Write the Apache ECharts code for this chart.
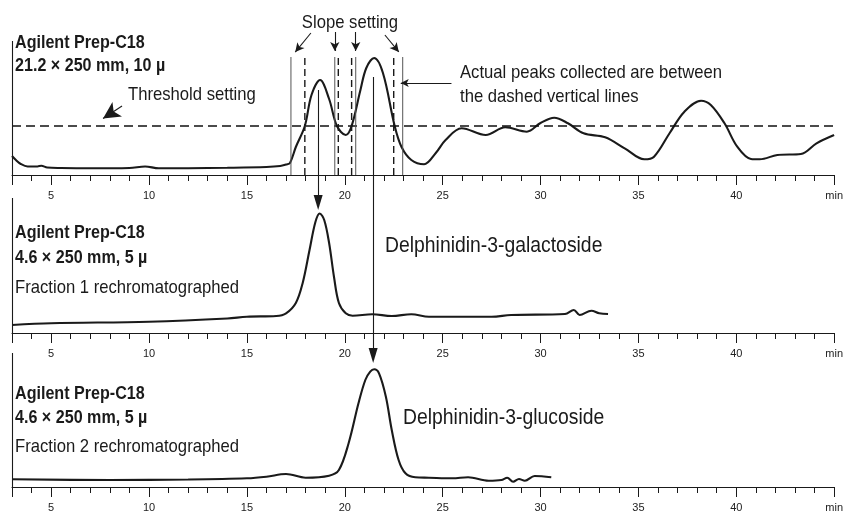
<!DOCTYPE html>
<html><head><meta charset="utf-8">
<script src="https://cdn.jsdelivr.net/npm/echarts@6/dist/echarts.min.js"></script>
<style>html,body{margin:0;padding:0;background:#fff}#c{width:846px;height:513px}</style>
</head><body><div id="c"></div>
<script>
// ---- axis ----
const timeMin = 3, timeMax = 45;
const majorTicks = [3, 5, 10, 15, 20, 25, 30, 35, 40, 45];
const labelTicks = [5, 10, 15, 20, 25, 30, 35, 40, 45];
const minorTicks = [3,4,5,6,7,8,9,10,11,12,13,14,15,16,17,18,19,20,21,22,23,24,25,26,27,28,29,30,31,32,33,34,35,36,37,38,39,40,41,42,43,44,45];

// ---- panel 1: Agilent Prep-C18 21.2 x 250 mm (preparative run) ----
const prepTime   = [3.0,3.2,3.45,3.8,4.3,4.5,4.8,5.5,7,9,9.8,10.5,12,14,16,16.7,17.0,17.2,17.5,17.96,18.3,18.74,19.2,19.6,20.05,20.35,20.8,21.1,21.5,21.95,22.55,22.9,23.4,24.05,24.65,25.15,25.97,27.2,28.2,29.3,30.0,30.7,31.4,32.2,33.3,34.3,35.3,35.8,36.6,37.35,38.2,38.7,39.4,40.05,40.75,41.2,42.1,43.3,44.1,45.0];
const prepSignal = [19,15,11,8.5,8.5,9.3,7.5,7,6.7,7,8.5,6.7,6.8,7.2,8,9,10.5,12,28,49,80,95,76,49,40,49,85,107,117,102,49,28,15,10.7,22,35,46.7,40,47.7,43.3,52,57.3,51.7,41.7,37.7,26.7,15.7,18.3,42,63.3,74.3,70,51.7,28.3,16,15.7,20,21,31.7,40];
const thresholdLevel = 49;
const slopeSolidLines  = [17.25, 19.49, 20.56, 22.96];
const collectDashLines = [17.96, 19.67, 20.35, 22.50];
const fractionLineTop = 118;

// ---- panel 2: fraction 1 rechromatographed ----
const frac1Time   = [3.0,5.0,10,14,15,16.5,17.0,17.5,17.85,18.2,18.5,18.72,18.95,19.2,19.45,19.7,20.05,20.4,21.4,22.4,23.4,24.3,25.5,27.5,28.5,31.25,31.7,32.0,32.6,33.0,33.45];
const frac1Signal = [8,9.7,11.3,14.5,16.3,17,19.7,30,50,83,111,119.5,113,90,56,30,19.7,17.3,18.7,17,18.7,16.3,16.3,16.3,18,19,23,18,22.3,19.7,19];

// ---- panel 3: fraction 2 rechromatographed ----
const frac2Time   = [3.0,8,12,15,16,17.0,18.0,19.2,19.7,20.2,20.7,21.05,21.3,21.5,21.75,22.1,22.4,22.75,23.1,23.6,24.3,25.5,26.3,27.35,28.0,28.3,28.6,28.9,29.2,29.7,30.55];
const frac2Signal = [7.7,7,7.5,8.7,10.3,13,9.3,11.3,17,44,83.7,107,115.3,117.7,113.7,90.3,57,27,13.7,9.7,9.3,8.7,9.7,6.3,7,9.3,5.3,8,6.3,11,9.7];

const FONT = "'Liberation Sans',Arial,sans-serif";
const INK = '#1a1a1a';

function zip(a, b) { return a.map((v, i) => [v, b[i]]); }

const axisBottoms = [338, 180, 26];   // grid bottoms (px from chart bottom)
const yMaxes = [175, 333, 487];        // y range of each grid (relative units)

const grids = axisBottoms.map(b => ({ left: 12, right: 8, top: 0, bottom: b }));
const xAxes = [], yAxes = [];
axisBottoms.forEach((b, i) => {
  xAxes.push({
    type: 'value', gridIndex: i, min: timeMin, max: timeMax, position: 'bottom',
    axisLine: { show: true, lineStyle: { color: INK, width: 1 } },
    axisTick: { show: true, length: 10, customValues: majorTicks, lineStyle: { color: INK, width: 1 } },
    axisLabel: { show: true, customValues: labelTicks, margin: 15, fontSize: 11, color: '#222', fontFamily: FONT,
      formatter: v => v === 45 ? 'min' : String(v) },
    splitLine: { show: false }
  });
  xAxes.push({
    type: 'value', gridIndex: i, min: timeMin, max: timeMax, position: 'bottom',
    axisLine: { show: false },
    axisTick: { show: true, length: 6, customValues: minorTicks, lineStyle: { color: INK, width: 1 } },
    axisLabel: { show: false }, splitLine: { show: false }
  });
  yAxes.push({ type: 'value', gridIndex: i, min: 0, max: yMaxes[i], show: false });
});

function lineSeries(i, data, style, extra) {
  return Object.assign({
    type: 'line', xAxisIndex: i * 2, yAxisIndex: i, data: data, showSymbol: false, symbol: 'none',
    clip: false, silent: true, animation: false, lineStyle: style
  }, extra || {});
}

function ml(from, to, endSymbol, size) {
  return [{ coord: from, symbol: 'none' }, { coord: to, symbol: endSymbol || 'none', symbolSize: size || 0 }];
}
const mlBase = { silent: true, animation: false, symbol: ['none', 'none'], label: { show: false },
  emphasis: { disabled: true }, lineStyle: { color: INK, width: 1.1, type: 'solid' } };

const series = [];
// panel 1
series.push(lineSeries(0, zip(prepTime, prepSignal), { color: INK, width: 2.1 }, {
  smooth: 0.35,
  markLine: Object.assign({}, mlBase, {
    data: [
      ml([timeMin, 0], [timeMin, 134]),
      ml([18.27, 142], [17.47, 122.9], 'arrow', [7, 9]),
      ml([19.49, 143], [19.49, 124], 'arrow', [7, 9]),
      ml([20.56, 143], [20.56, 124], 'arrow', [7, 9]),
      ml([22.05, 140], [22.76, 123.1], 'arrow', [7, 9]),
      ml([8.62, 69], [7.65, 56.5], 'arrow', [13, 17]),
      ml([25.45, 92], [22.86, 92], 'arrow', [6, 8])
    ]
  })
}));
series.push(lineSeries(0, [[timeMin, thresholdLevel], [timeMax, thresholdLevel]], { color: '#111', width: 1.4, type: [9, 5] }));
slopeSolidLines.forEach(t => series.push(lineSeries(0, [[t, 0], [t, fractionLineTop]], { color: '#555', width: 1 })));
collectDashLines.forEach(t => series.push(lineSeries(0, [[t, 0], [t, fractionLineTop]], { color: INK, width: 1.4, type: [7, 4] })));

// panel 2
series.push(lineSeries(1, zip(frac1Time, frac1Signal), { color: INK, width: 2.1 }, {
  smooth: 0.35,
  markLine: Object.assign({}, mlBase, {
    data: [
      ml([timeMin, 0], [timeMin, 135]),
      ml([18.64, 243], [18.64, 130.5], 'triangle', [9, 15])
    ]
  })
}));
// panel 3
series.push(lineSeries(2, zip(frac2Time, frac2Signal), { color: INK, width: 2.1 }, {
  smooth: 0.35,
  markLine: Object.assign({}, mlBase, {
    data: [
      ml([timeMin, 0], [timeMin, 134]),
      ml([21.45, 410], [21.45, 131.5], 'triangle', [9, 15])
    ]
  })
}));

// condensed-looking text: regular face squeezed horizontally
function txt(s, x, y, size, bold, sx, align) {
  return { type: 'text', x: x, y: y, scaleX: sx, scaleY: 1, silent: true,
    style: { text: s, fill: INK, fontSize: size, fontWeight: bold ? 'bold' : 'normal', fontFamily: FONT,
      align: align || 'left', verticalAlign: 'middle' } };
}

const graphic = [
  txt('Slope setting', 350, 23, 18.5, false, 0.9, 'center'),
  txt('Agilent Prep-C18', 15, 43, 17.5, true, 0.92),
  txt('21.2 \u00d7 250 mm, 10 \u00b5', 15, 66, 17.5, true, 0.92),
  txt('Threshold setting', 128, 95, 18.5, false, 0.9),
  txt('Actual peaks collected are between', 460, 73, 18.5, false, 0.9),
  txt('the dashed vertical lines', 460, 97, 18.5, false, 0.9),
  txt('Agilent Prep-C18', 15, 233, 17.5, true, 0.92),
  txt('4.6 \u00d7 250 mm, 5 \u00b5', 15, 258, 17.5, true, 0.92),
  txt('Fraction 1 rechromatographed', 15, 288, 18.5, false, 0.9),
  txt('Delphinidin-3-galactoside', 385, 246, 22, false, 0.88),
  txt('Agilent Prep-C18', 15, 394, 17.5, true, 0.92),
  txt('4.6 \u00d7 250 mm, 5 \u00b5', 15, 418, 17.5, true, 0.92),
  txt('Fraction 2 rechromatographed', 15, 447, 18.5, false, 0.9),
  txt('Delphinidin-3-glucoside', 403, 418, 22, false, 0.88)
];

const chart = echarts.init(document.getElementById('c'), null, { renderer: 'canvas' });
chart.setOption({
  animation: false,
  backgroundColor: '#fff',
  grid: grids, xAxis: xAxes, yAxis: yAxes, series: series, graphic: graphic
});
</script></body></html>
